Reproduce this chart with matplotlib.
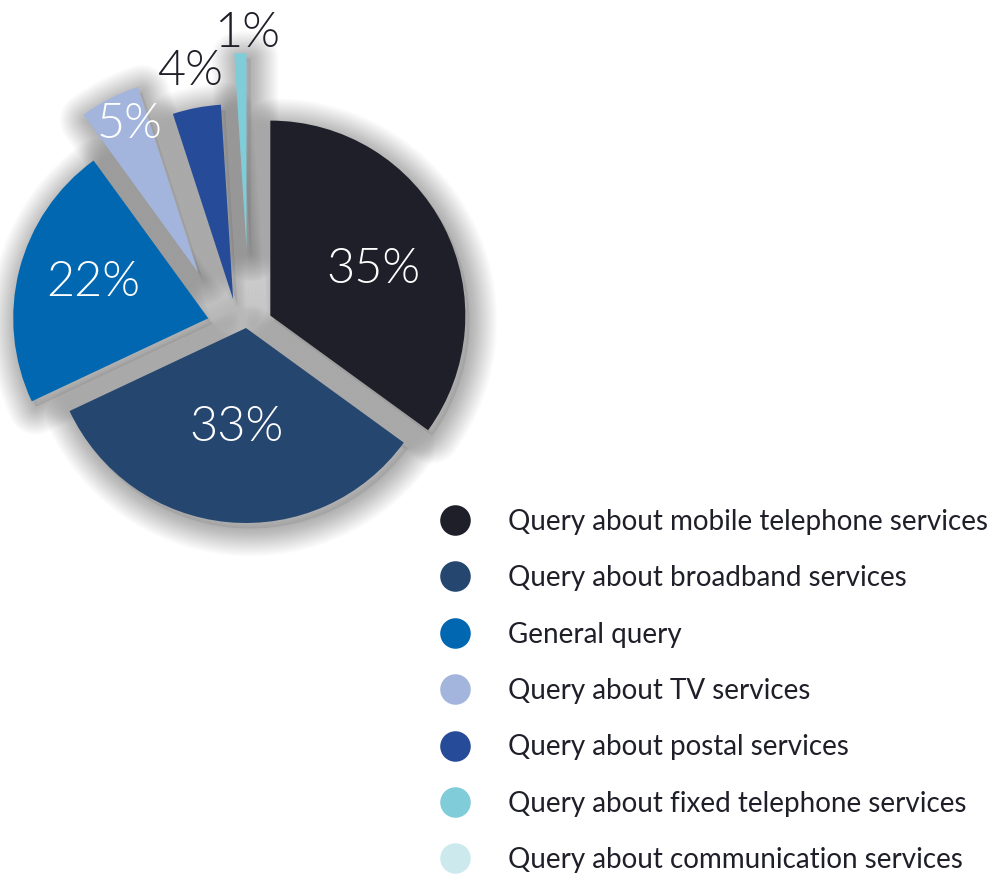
import numpy as np
import matplotlib
matplotlib.use("Agg")
import matplotlib.pyplot as plt
import matplotlib.patheffects as pe
from matplotlib.patches import Wedge
from matplotlib.lines import Line2D

# datos
categorias = [
    "Query about mobile telephone services",
    "Query about broadband services",
    "General query",
    "Query about TV services",
    "Query about postal services",
    "Query about fixed telephone services",
    "Query about communication services",
]
porcentajes = [35, 33, 22, 5, 4, 1, 0]
colores = ["#1e1f28", "#25466f", "#0067b0", "#a4b5dd", "#264b98", "#81ccd9", "#cce9ee"]

# estilo de cada porcion (desplazamiento en fraccion del radio)
explode = [0.14, 0.0, 0.20, 0.36, 0.16, 0.41, 0.0]
ajuste = [(0, 0), (0, 0), (0, 0), (-16, -7), (-7, -2), (3, 0), (0, 0)]  # px
dist_etiqueta = [0.58, 0.51, 0.62, 0.835, 1.19, 1.10, 0.0]
giro_etiqueta = [-3, 0, -3, -2, 0, -2, 0]
color_etiqueta = ["white", "white", "white", "white", "#1e1f28", "#1e1f28", "white"]

W, H = 1004, 874
fig = plt.figure(figsize=(W / 100, H / 100), dpi=100)
ax = fig.add_axes([0, 0, 1, 1])

R = 195
centro = (246, H - 328)
wedges, _ = ax.pie(
    porcentajes[:6],
    colors=colores[:6],
    explode=[e * R for e in explode[:6]],
    radius=R,
    center=centro,
    startangle=90,
    counterclock=False,
    frame=True,
    wedgeprops=dict(linewidth=0, zorder=3),
)
ax.set_xlim(0, W)
ax.set_ylim(0, H)
ax.set_aspect("equal")
ax.axis("off")

for w, (dx, dy) in zip(wedges, ajuste):
    cx, cy = w.center
    w.set_center((cx + dx, cy + dy))

# sombra difusa debajo de cada porcion
efectos = [pe.SimplePatchShadow(offset=(3, -4), shadow_rgbFace="black", alpha=0.08)]
for lw in np.linspace(40, 2, 20):
    efectos.append(pe.Stroke(offset=(3, -4), linewidth=lw, foreground="black",
                             alpha=0.014, joinstyle="round"))
for w in wedges:
    s = Wedge(w.center, w.r, w.theta1, w.theta2, facecolor="none", edgecolor="none", zorder=1)
    s.set_path_effects(efectos)
    ax.add_patch(s)

# etiquetas de porcentaje
for w, p, d, g, c in zip(wedges, porcentajes, dist_etiqueta, giro_etiqueta, color_etiqueta):
    ang = np.deg2rad((w.theta1 + w.theta2) / 2 + g)
    x = w.center[0] + d * R * np.cos(ang)
    y = w.center[1] + d * R * np.sin(ang)
    ax.text(x, y, f"{p}%", color=c, fontsize=35, family="Lato", fontweight=300,
            ha="center", va="center", zorder=5)

# leyenda
handles = [Line2D([], [], marker="o", ls="", markersize=22, color=c, markeredgewidth=0)
           for c in colores]
fig.legend(handles, categorias, loc="upper left", bbox_to_anchor=(0.4253, 0.418),
           frameon=False, prop=dict(family="Lato", size=20), labelspacing=1.095,
           handlelength=2.0, handletextpad=0.9, borderpad=0, borderaxespad=0,
           labelcolor="#1e1f28")

fig.savefig("out.png", dpi=100)
